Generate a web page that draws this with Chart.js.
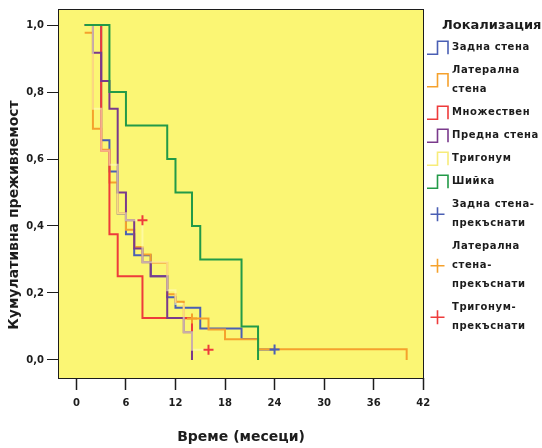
<!DOCTYPE html>
<html>
	<head>
		<meta charset="utf-8" />
		<title>Кумулативна преживяемост</title>
		<script src="https://cdn.jsdelivr.net/npm/chart.js@4.4.1/dist/chart.umd.min.js"></script>
		<style>
			body {
				margin: 0;
				background: #ffffff;
			}
		</style>
	</head>
	<body>
		<canvas id="myChart" width="542" height="448"></canvas>
		<script>
			// Kaplan-Meier steps: time of each drop (months) and survival from that time on
			const zadnaTimes = [1, 3, 4, 5, 6, 7, 9, 11, 12, 15, 20, 22, 24];
			const zadnaSurv = [1, 0.656, 0.5625, 0.4375, 0.375, 0.3125, 0.25, 0.1875, 0.156, 0.094, 0.0625, 0.031, 0.031];

			const lateralTimes = [1, 2, 3, 4, 5, 6, 7, 8, 9, 11, 12, 13, 16, 18, 22, 40];
			const lateralSurv = [0.977, 0.69, 0.628, 0.53, 0.438, 0.389, 0.337, 0.315, 0.29, 0.196, 0.174, 0.124, 0.091, 0.062, 0.032, 0];

			const mnozhTimes = [1, 3, 4, 5, 8, 14];
			const mnozhSurv = [1, 0.625, 0.375, 0.25, 0.125, 0];

			const prednaTimes = [1, 2, 3, 4, 5, 6, 7, 8, 9, 11, 13, 14];
			const prednaSurv = [1, 0.917, 0.833, 0.75, 0.5, 0.417, 0.333, 0.292, 0.25, 0.125, 0.083, 0];

			const trigonTimes = [1, 2, 3, 4, 5, 6, 8, 11, 12, 13, 14, 16];
			const trigonSurv = [1, 0.75, 0.625, 0.583, 0.438, 0.417, 0.292, 0.208, 0.167, 0.083, 0.03, 0.03];

			const shiykaTimes = [1, 4, 6, 11, 12, 14, 15, 20, 22];
			const shiykaSurv = [1, 0.8, 0.7, 0.6, 0.5, 0.4, 0.3, 0.1, 0];

			// censored cases
			const zadnaCensTimes = [24];
			const zadnaCensSurv = [0.031];
			const lateralCensTimes = [14];
			const lateralCensSurv = [0.124];
			const trigonCensTimes = [8, 16];
			const trigonCensSurv = [0.417, 0.03];

			const xTicks = [0, 6, 12, 18, 24, 30, 36, 42];
			const yTicks = [0, 0.2, 0.4, 0.6, 0.8, 1];

			const legendTitle = "Локализация";
			const legendNames = [
				["Задна стена"],
				["Латерална", "стена"],
				["Множествен"],
				["Предна стена"],
				["Тригонум"],
				["Шийка"],
				["Задна стена-", "прекъснати"],
				["Латерална", "стена-", "прекъснати"],
				["Тригонум-", "прекъснати"],
			];

			const blue = "#4a5fb4";
			const orange = "#f5a12c";
			const red = "#ee3b3b";
			const purple = "#7a3a8c";
			// pale yellow, almost lost on the plot background
			const paleYellow = "rgba(255, 252, 190, 0.6)";
			const green = "#229a48";
			const plotBg = "#fbf674";
			const ink = "#1c1c1c";

			function toPoints(times, surv) {
				return times.map((t, i) => ({ x: t, y: surv[i] }));
			}

			function curve(label, times, surv, color, order) {
				return {
					label: label,
					data: toPoints(times, surv),
					borderColor: color,
					backgroundColor: color,
					borderWidth: 2,
					stepped: "before",
					pointRadius: 0,
					fill: false,
					order: order,
				};
			}

			function censored(label, times, surv, color) {
				return {
					label: label,
					data: toPoints(times, surv),
					showLine: false,
					borderColor: color,
					backgroundColor: color,
					pointStyle: "cross",
					pointRadius: 5,
					pointBorderWidth: 2,
					order: 0,
				};
			}

			const datasets = [
				curve(legendNames[0].join(" "), zadnaTimes, zadnaSurv, blue, 6),
				curve(legendNames[1].join(" "), lateralTimes, lateralSurv, orange, 5),
				curve(legendNames[2].join(" "), mnozhTimes, mnozhSurv, red, 4),
				curve(legendNames[3].join(" "), prednaTimes, prednaSurv, purple, 3),
				curve(legendNames[4].join(" "), trigonTimes, trigonSurv, paleYellow, 2),
				curve(legendNames[5].join(" "), shiykaTimes, shiykaSurv, green, 1),
				censored(legendNames[6].join(""), zadnaCensTimes, zadnaCensSurv, blue),
				censored(legendNames[7].join(""), lateralCensTimes, lateralCensSurv, orange),
				censored(legendNames[8].join(""), trigonCensTimes, trigonCensSurv, red),
			];
			const legendColors = [blue, orange, red, purple, "#f7ec7a", green, blue, orange, red];

			// yellow plot area, frame, axis titles and the legend on the right
			const plotDecor = {
				id: "plotDecor",
				beforeDraw(chart) {
					const a = chart.chartArea;
					const ctx = chart.ctx;
					ctx.save();
					ctx.fillStyle = plotBg;
					ctx.fillRect(a.left, a.top, a.right - a.left, a.bottom - a.top);
					ctx.restore();
				},
				afterDraw(chart) {
					const a = chart.chartArea;
					const ctx = chart.ctx;
					ctx.save();
					ctx.strokeStyle = ink;
					ctx.lineWidth = 1;
					ctx.strokeRect(a.left + 0.5, a.top + 0.5, a.right - a.left - 1, a.bottom - a.top);

					ctx.fillStyle = ink;
					ctx.textAlign = "center";
					ctx.textBaseline = "middle";
					ctx.font = "bold 14px 'DejaVu Sans'";
					ctx.fillText("Време (месеци)", (a.left + a.right) / 2, 437);
					ctx.save();
					ctx.translate(14, 215);
					ctx.rotate(-Math.PI / 2);
					ctx.fillText("Кумулативна преживяемост", 0, 0);
					ctx.restore();

					// legend
					ctx.textAlign = "left";
					ctx.font = "bold 13px 'DejaVu Sans'";
					ctx.fillText(legendTitle, 442, 26);
					ctx.font = "bold 10px 'DejaVu Sans'";
					ctx.letterSpacing = "0.6px";
					ctx.lineWidth = 1.6;
					let y = 47.7;
					legendNames.forEach((lines, i) => {
						const mid = y + ((lines.length - 1) * 19) / 2;
						ctx.strokeStyle = legendColors[i];
						ctx.beginPath();
						if (i < 6) {
							ctx.moveTo(427, mid + 6.5);
							ctx.lineTo(437.5, mid + 6.5);
							ctx.lineTo(437.5, mid - 6.5);
							ctx.lineTo(448, mid - 6.5);
							ctx.lineTo(448, mid + 6.5);
						} else {
							ctx.moveTo(430.5, mid);
							ctx.lineTo(444.5, mid);
							ctx.moveTo(437.5, mid - 7);
							ctx.lineTo(437.5, mid + 7);
						}
						ctx.stroke();
						lines.forEach((t, j) => ctx.fillText(t, 452, y + j * 19));
						y += lines.length * 19 + 4;
					});
					ctx.restore();
				},
			};

			new Chart(document.getElementById("myChart").getContext("2d"), {
				type: "line",
				data: { datasets: datasets },
				options: {
					responsive: false,
					animation: false,
					layout: {
						padding: { top: 8, right: 118, left: 0, bottom: 0 },
					},
					plugins: {
						legend: { display: false },
						tooltip: { enabled: false },
					},
					scales: {
						x: {
							type: "linear",
							min: -2.23,
							max: 42.1,
							afterBuildTicks: (s) => {
								s.ticks = xTicks.map((v) => ({ value: v }));
							},
							afterFit: (s) => {
								s.height = 70;
							},
							border: { display: false },
							grid: {
								drawOnChartArea: false,
								tickLength: 12,
								tickColor: ink,
								tickWidth: 1.5,
							},
							ticks: {
								color: ink,
								padding: 7,
								maxRotation: 0,
								font: { family: "DejaVu Sans", size: 10, weight: "bold" },
							},
						},
						y: {
							type: "linear",
							min: -0.054,
							max: 1.048,
							afterBuildTicks: (s) => {
								s.ticks = yTicks.map((v) => ({ value: v }));
							},
							afterFit: (s) => {
								s.width = 58;
							},
							border: { display: false },
							grid: {
								drawOnChartArea: false,
								tickLength: 11,
								tickColor: ink,
								tickWidth: 1,
							},
							ticks: {
								color: ink,
								padding: 3,
								font: { family: "DejaVu Sans", size: 10, weight: "bold" },
								callback: (v) => v.toFixed(1).replace(".", ","),
							},
						},
					},
				},
				plugins: [plotDecor],
			});
		</script>
	</body>
</html>
